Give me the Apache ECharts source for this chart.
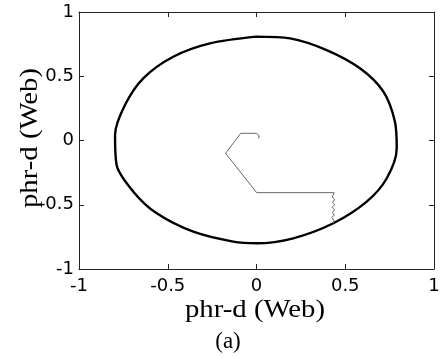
<!DOCTYPE html>
<html>
<head>
<meta charset="utf-8">
<script src="https://cdn.jsdelivr.net/npm/echarts@6/dist/echarts.min.js"></script>
<style>
  html, body { margin: 0; padding: 0; background: #fff; }
  #main { width: 443px; height: 358px; }
</style>
</head>
<body>
<div id="main"></div>
<script>
// outer ring (steady-state flux locus)
var ringX = [0.001, -0.262, -0.469, -0.638, -0.741, -0.797, -0.788, -0.694, -0.562, -0.356,
             -0.131, 0.001, 0.207, 0.433, 0.621, 0.734, 0.790, 0.780, 0.715, 0.583,
             0.395, 0.189, 0.001];
var ringY = [0.808, 0.756, 0.652, 0.484, 0.276, 0.043, -0.191, -0.398, -0.567, -0.710,
             -0.787, -0.800, -0.761, -0.644, -0.476, -0.294, -0.061, 0.146, 0.380, 0.562,
             0.704, 0.795, 0.808];

// start-up trajectory (thin grey)
var startX = [0.010, 0.016, 0.001, -0.089, -0.174, 0.001, 0.437, 0.440, 0.428, 0.440, 0.428,
              0.440, 0.426, 0.440, 0.428, 0.438, 0.424, 0.436, 0.433];
var startY = [0.017, 0.035, 0.056, 0.056, -0.100, -0.406, -0.406, -0.420, -0.440, -0.460, -0.480,
              -0.500, -0.520, -0.540, -0.560, -0.580, -0.600, -0.620, -0.645];

function pairs(xs, ys) {
    var out = [];
    for (var i = 0; i < xs.length; i++) out.push([xs[i], ys[i]]);
    return out;
}

var chart = echarts.init(document.getElementById('main'));

var axisLine = { show: true, onZero: false, lineStyle: { color: '#222', width: 1 } };
var labelFont = { color: '#000', fontFamily: 'DejaVu Sans', fontSize: 18 };

chart.setOption({
    animation: false,
    backgroundColor: '#fff',
    grid: { left: 79, right: 9, top: 12, bottom: 89 },
    xAxis: [
        { type: 'value', min: -1, max: 1, interval: 0.5, position: 'bottom',
          axisLine: axisLine, splitLine: { show: false },
          axisTick: { inside: true, length: 5, lineStyle: { color: '#222' } },
          axisLabel: Object.assign({ margin: 8, formatter: function (v) { return String(v); } }, labelFont) },
        { type: 'value', min: -1, max: 1, interval: 0.5, position: 'top',
          axisLine: axisLine, splitLine: { show: false },
          axisTick: { inside: true, length: 5, lineStyle: { color: '#222' } },
          axisLabel: { show: false } }
    ],
    yAxis: [
        { type: 'value', min: -1, max: 1, interval: 0.5, position: 'left',
          axisLine: axisLine, splitLine: { show: false },
          axisTick: { inside: true, length: 5, lineStyle: { color: '#222' } },
          axisLabel: Object.assign({ margin: 5, formatter: function (v) { return String(v); } }, labelFont) },
        { type: 'value', min: -1, max: 1, interval: 0.5, position: 'right',
          axisLine: axisLine, splitLine: { show: false },
          axisTick: { inside: true, length: 5, lineStyle: { color: '#222' } },
          axisLabel: { show: false } }
    ],
    series: [
        { type: 'line', data: pairs(ringX, ringY), showSymbol: false, smooth: 0.3,
          lineStyle: { color: '#000', width: 2.4 } },
        { type: 'line', data: pairs(startX, startY), showSymbol: false,
          lineStyle: { color: '#666', width: 1 } }
    ],
    graphic: [
        { type: 'text', x: 255, y: 310, scaleX: 1.15,
          style: { text: 'phr-d (Web)', font: '25px "Liberation Serif"', fill: '#000',
                   textAlign: 'center', textVerticalAlign: 'middle' } },
        // rotated so it reads bottom to top
        { type: 'text', x: 30, y: 138, rotation: Math.PI / 2, scaleX: 1.15,
          style: { text: 'phr-d (Web)', font: '25px "Liberation Serif"', fill: '#000',
                   textAlign: 'center', textVerticalAlign: 'middle' } },
        { type: 'text', x: 228, y: 342,
          style: { text: '(a)', font: '23px "Liberation Serif"', fill: '#000',
                   textAlign: 'center', textVerticalAlign: 'middle' } }
    ]
});
</script>
</body>
</html>
